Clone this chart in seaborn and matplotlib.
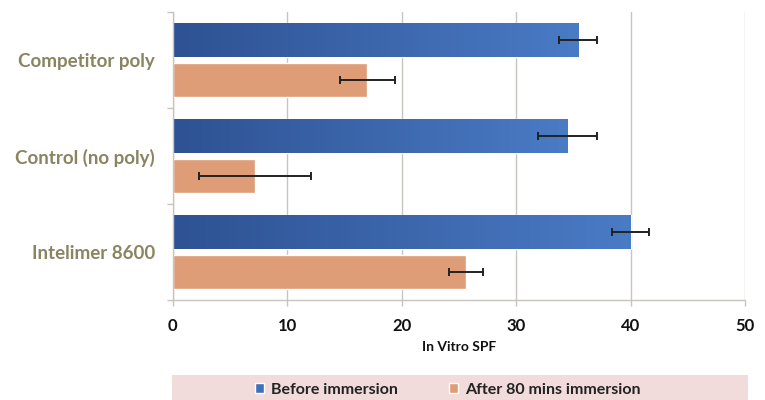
import numpy as np
import pandas as pd
import seaborn as sns
import matplotlib.pyplot as plt
import matplotlib.ticker as ticker
from matplotlib.colors import LinearSegmentedColormap, to_rgb
from matplotlib.patches import Rectangle

categories = ["Competitor poly", "Control (no poly)", "Intelimer 8600"]
series = ["Before immersion", "After 80 mins immersion"]
before = [35.4, 34.5, 40.0]
before_err = [1.7, 2.6, 1.6]
after = [17.0, 7.2, 25.6]
after_err = [2.4, 4.9, 1.5]
x_ticks = [0, 10, 20, 30, 40, 50]

BLUE = "#4170BA"
ORANGE = "#DE9C77"
LABEL = "#8A8460"
GRID = "#C8C4C0"
BAND = "#F2DCDB"

df = pd.DataFrame({
    "category": categories * 2,
    "series": [series[0]] * 3 + [series[1]] * 3,
    "spf": before + after,
})
errs = {series[0]: before_err, series[1]: after_err}

sns.set_theme(style="white")
plt.rcParams["font.family"] = ["Lato", "DejaVu Sans"]

fig = plt.figure(figsize=(7.65, 4.0), dpi=100)
ax = fig.add_axes([0.226, 0.25, 0.748, 0.72])

sns.barplot(
    data=df, x="spf", y="category", hue="series",
    order=categories, hue_order=series,
    palette=[BLUE, ORANGE], saturation=1, orient="h",
    width=0.83, gap=0.15, errorbar=None, ax=ax, legend=True,
)
handles, labels = ax.get_legend_handles_labels()
ax.get_legend().remove()

# gradient on the blue bars, error bars on all
cmap = LinearSegmentedColormap.from_list("bl", ["#2E5293", "#4A7BC5"])
grad = np.linspace(0, 1, 256).reshape(1, -1)
real_bars = [p for p in list(ax.patches) if p.get_width() > 0 and p.get_height() > 0]
for s, col in zip(series, [BLUE, ORANGE]):
    bars = [p for p in real_bars
            if np.allclose(p.get_facecolor()[:3], to_rgb(col), atol=0.02)]
    bars.sort(key=lambda p: p.get_y())
    for p, e in zip(bars, errs[s]):
        x0, y0, w, h = p.get_x(), p.get_y(), p.get_width(), p.get_height()
        if col == BLUE:
            im = ax.imshow(grad, extent=[x0, x0 + w, y0 + h, y0], cmap=cmap,
                           aspect="auto", zorder=p.get_zorder() + 0.1,
                           interpolation="bicubic")
            im.set_clip_path(p)
        ax.errorbar(w, y0 + h / 2, xerr=e, fmt="none", ecolor="#222222",
                    elinewidth=1.4, capsize=3, capthick=1.4, zorder=5)

ax.set_xlim(0, 50)
ax.set_ylim(2.5, -0.5)
ax.set_xticks(x_ticks)
ax.xaxis.set_major_formatter(ticker.FuncFormatter(lambda v, _: f"{v:g}"))
ax.yaxis.set_minor_locator(ticker.FixedLocator([-0.5, 0.5, 1.5, 2.5]))
ax.grid(True, axis="x", color=GRID, linewidth=1)
ax.set_axisbelow(True)
for sp in ("top", "right"):
    ax.spines[sp].set_visible(False)
for sp in ("left", "bottom"):
    ax.spines[sp].set_color(GRID)
    ax.spines[sp].set_linewidth(1)

ax.tick_params(axis="x", length=4, width=1, color=GRID, pad=9,
               labelsize=12, labelcolor="#111111", direction="out", bottom=True)
ax.tick_params(axis="y", which="major", length=0, pad=13, labelsize=13.5,
               labelcolor=LABEL)
ax.tick_params(axis="y", which="minor", length=4, width=1, color=GRID,
               direction="out", left=True)
for t in ax.get_xticklabels():
    t.set_fontweight("bold")
for t in ax.get_yticklabels():
    t.set_fontweight("bold")

ax.set_ylabel("")
ax.set_xlabel("In Vitro SPF", fontsize=10, fontweight="bold", color="#111111",
              labelpad=5)

fig.patches.append(Rectangle((0.225, -0.05), 0.753, 0.113,
                             transform=fig.transFigure, facecolor=BAND,
                             edgecolor="none", zorder=0))
fig.legend(handles, labels, loc="center", bbox_to_anchor=(0.585, 0.025),
           ncol=2, frameon=False, handlelength=0.6, handleheight=0.6,
           handletextpad=0.4, columnspacing=3.2,
           prop={"weight": "bold", "size": 11.5}, labelcolor="#222222")

fig.savefig("out.png", dpi=100)
